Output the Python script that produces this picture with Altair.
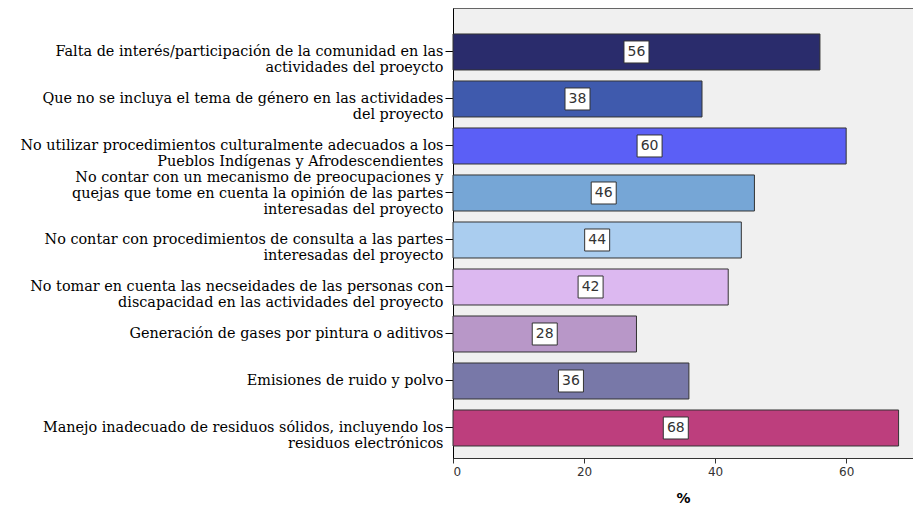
import altair as alt
import pandas as pd

categories = [
    "Falta de interés/participación de la comunidad en las|actividades del proeycto",
    "Que no se incluya el tema de género en las actividades|del proyecto",
    "No utilizar procedimientos culturalmente adecuados a los|Pueblos Indígenas y Afrodescendientes",
    "No contar con un mecanismo de preocupaciones y|quejas que tome en cuenta la opinión de las partes|interesadas del proyecto",
    "No contar con procedimientos de consulta a las partes|interesadas del proyecto",
    "No tomar en cuenta las necseidades de las personas con|discapacidad en las actividades del proyecto",
    "Generación de gases por pintura o aditivos",
    "Emisiones de ruido y polvo",
    "Manejo inadecuado de residuos sólidos, incluyendo los|residuos electrónicos",
]
values = [56, 38, 60, 46, 44, 42, 28, 36, 68]
colors = ["#2a2c6c", "#3f5aad", "#5b5ff6", "#76a6d6", "#aacdef",
          "#dcb8f0", "#b897c8", "#7878a8", "#bd3e7d"]
x_ticks = [0, 20, 40, 60]

df = pd.DataFrame({"cat": categories, "pct": values})
df["mid"] = df["pct"] / 2

y_enc = alt.Y(
    "cat:N", sort=None, title=None,
    scale=alt.Scale(paddingInner=0.234, paddingOuter=0.404, align=0.684),
    axis=alt.Axis(
        labelExpr="split(datum.label, '|')",
        labelFont="DejaVu Serif", labelFontSize=14.4, labelColor="#000",
        labelLineHeight=16, labelLimit=460, labelPadding=2,
        labelBaseline="middle",
        labelOffset={"condition": {"test": "indexof(datum.value, 'quejas') >= 0", "value": -15}, "value": 0},
        tickSize=8, tickColor="#000", domainColor="#000",
        ticks=True, grid=False,
    ),
)
x_scale = alt.Scale(domain=[0, 70.2], nice=False, zero=True)

bars = alt.Chart(df).mark_bar(stroke="#333333", strokeWidth=1).encode(
    x=alt.X("pct:Q", scale=x_scale, title="%",
            axis=alt.Axis(values=x_ticks, grid=False, labelFont="DejaVu Sans",
                          labelFontSize=12, labelColor="#333", tickColor="#333",
                          tickSize=5, domainColor="#333", titleFont="DejaVu Sans",
                          titleFontSize=14, titleFontWeight="bold", titleColor="#000",
                          titlePadding=14, labelPadding=3)),
    y=y_enc,
    color=alt.Color("cat:N", scale=alt.Scale(domain=categories, range=colors), legend=None),
)

boxes = alt.Chart(df).mark_point(
    shape="M-1,-0.88H1V0.88H-1Z", size=625, filled=True,
    fill="white", stroke="#333333", strokeWidth=1, opacity=1,
).encode(x=alt.X("mid:Q", scale=x_scale), y=alt.Y("cat:N", sort=None))

labels = alt.Chart(df).mark_text(
    font="DejaVu Sans", fontSize=14, color="#333333", baseline="middle", align="center",
).encode(x=alt.X("mid:Q", scale=x_scale), y=alt.Y("cat:N", sort=None), text="pct:Q")

chart = (bars + boxes + labels).properties(
    width=460, height=450,
    autosize=alt.AutoSizeParams(type="none"),
    padding={"left": 445, "top": 0, "right": 0, "bottom": 50},
).configure_view(fill="#f0f0f0", stroke="#666666", strokeWidth=1)

chart.save("out.html", embed_options={"renderer": "svg", "actions": False})
